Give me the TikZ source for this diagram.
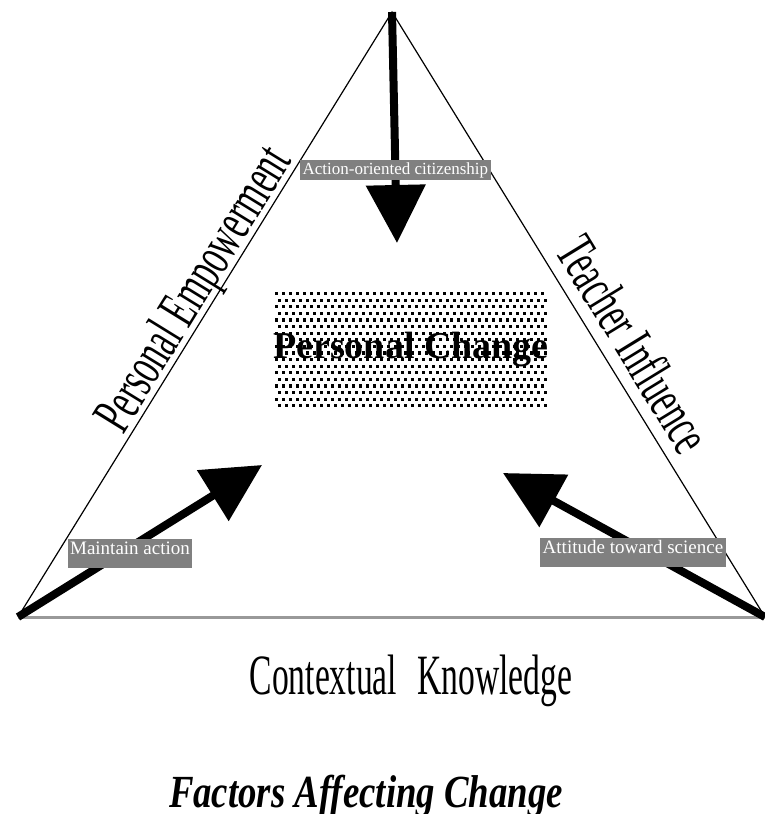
\documentclass[tikz,border=0pt]{standalone}
\usepackage{fontspec}
\setmainfont{Liberation Serif}
\usetikzlibrary{arrows.meta, positioning}

\begin{document}
\begin{tikzpicture}[
    x = 1pt, y = -1pt, % one unit per pixel, y runs down
    > = {Triangle[length=58pt, width=58pt]}, % big arrow head
    push/.style = {->, line width = 8pt},
    side/.style = {draw = black, line width = 1.2pt},
    ground/.style = {draw = gray!80, line width = 3pt},
    factor/.style = {font = \fontsize{57}{57}\selectfont, xscale = 0.59, inner sep = 0pt}
  ]

  \tikzstyle{tag}=[
    fill = gray,
    text = white,
    font = \fontsize{19}{19}\selectfont,
    inner xsep = 2.5pt,
    inner ysep = 2pt,
    text height = 14pt,
    text depth = 11pt
  ]

  \useasboundingbox (0,0) rectangle (765,814);

  \coordinate (apex) at (392,12);
  \coordinate (left) at (18,617);
  \coordinate (right) at (765,617);
  \coordinate (top tip) at (397,243);
  \coordinate (left tip) at (262,465);
  \coordinate (right tip) at (503,473);

  \draw[side] (left) -- (apex) -- (right);
  \draw[ground] (left) -- (right);

  % stipple behind the centre label
  \foreach \row in {0,...,17}
    \foreach \col in {0,...,38}
      \fill ({274.5 + 7*\col + 3.5*mod(\row,2)}, {292 + 6.6*\row}) rectangle +(3.2,3.2);
  \node (change) at (411,350) {\fontsize{38}{38}\selectfont\bfseries Personal Change};

  \path[push] (apex) edge node[tag, pos=0.684, font=\fontsize{17}{17}\selectfont, text height=12pt, text depth=4pt] {Action-oriented citizenship} (top tip);
  \path[push] (left) edge node[tag, pos=0.459, yshift=-6pt] {Maintain action} (left tip);
  \path[push] (right) edge node[tag, pos=0.504, yshift=-8pt] {Attitude toward science} (right tip);

  \node[rotate=58.3, factor, anchor=base] (empower) at (208,298) {Personal Empowerment};
  \node[rotate=-58.5, factor, anchor=base] (teacher) at (617.6,354) {Teacher Influence};
  \node[factor, anchor=base] (context) at (411,694) {Contextual\hspace{0.35em} Knowledge};
  \node[font=\fontsize{46}{46}\selectfont\bfseries\itshape, xscale=0.8, inner sep=0pt, anchor=base] (title) at (366,807) {Factors Affecting Change};
\end{tikzpicture}
\end{document}
